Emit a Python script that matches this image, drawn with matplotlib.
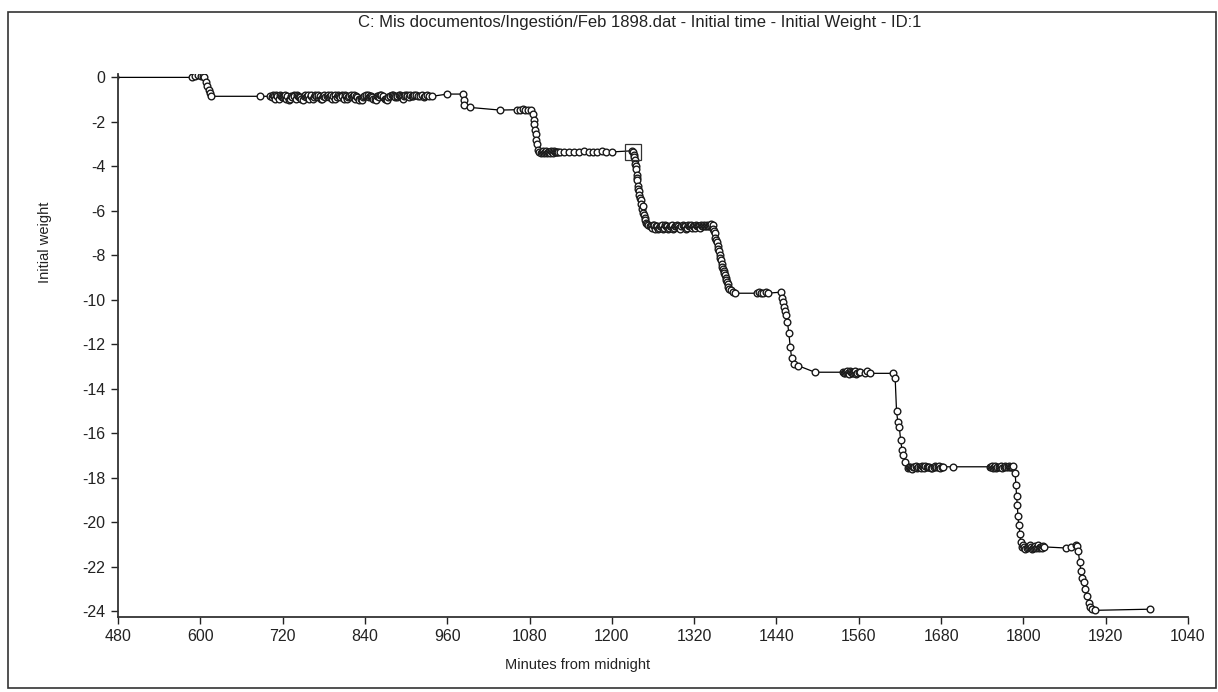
import matplotlib.pyplot as plt
from matplotlib.patches import Rectangle

plt.rcParams['font.family'] = ['Liberation Sans', 'DejaVu Sans']
plt.rcParams['axes.unicode_minus'] = False

# minutes from midnight / initial weight
minutos = [
    475, 588, 592, 597, 601, 604, 606, 608, 610, 612, 614, 616,
    687,
    702, 706, 709, 712, 716, 719, 722, 725, 729, 732, 736, 739, 742, 746, 749,
    752, 756, 759, 762, 766, 769, 772, 776, 779, 782, 786, 789, 792, 796, 799,
    802, 806, 809, 812, 816, 819, 822, 826, 829, 832, 836, 839, 842, 846, 849,
    852, 856, 859, 862, 866, 869, 872, 876, 879, 882, 886, 889, 892, 896, 899,
    902, 906, 910, 915, 920, 926, 930, 934, 938,
    960, 983, 984, 985, 993, 1037,
    1062, 1066, 1070, 1074, 1078, 1082,
    1085, 1086, 1087, 1088, 1089, 1090, 1091, 1092, 1094,
    1096, 1099, 1102, 1105, 1108, 1111, 1114, 1117, 1120, 1124,
    1130, 1138, 1145, 1152, 1160, 1166, 1172, 1178, 1185, 1192, 1200, 1229, 1231,
    1232, 1233, 1234, 1235, 1236, 1237, 1238, 1239, 1240, 1242, 1243, 1244,
    1246, 1247, 1249, 1250, 1252,
    1255, 1258, 1261, 1264, 1267, 1270, 1273, 1276, 1279, 1282, 1285, 1288,
    1291, 1294, 1297, 1300, 1303, 1306, 1309, 1312, 1315, 1318, 1321, 1324,
    1327, 1330, 1333, 1336, 1339, 1342, 1345, 1347,
    1348, 1350, 1351, 1353, 1354, 1356, 1357, 1359, 1360, 1362, 1364, 1366,
    1368, 1370, 1373, 1376, 1379,
    1412, 1415, 1418, 1421, 1424, 1427, 1447,
    1448, 1450, 1451, 1453, 1454, 1456, 1458, 1460, 1462, 1465, 1471, 1496,
    1537, 1540, 1543, 1546, 1549, 1552, 1555, 1558, 1562, 1569, 1572, 1576, 1610,
    1613, 1615, 1617, 1619, 1621, 1623, 1625, 1628,
    1632, 1635, 1638, 1641, 1645, 1649, 1652, 1655, 1659, 1663, 1667, 1671,
    1675, 1679, 1683, 1697,
    1751, 1754, 1757, 1760, 1764, 1767, 1771, 1775, 1779, 1782, 1785,
    1788, 1789, 1790, 1791, 1792, 1793, 1795, 1796, 1798,
    1800, 1803, 1806, 1809, 1812, 1815, 1818, 1821, 1824, 1827, 1830,
    1862, 1870, 1876, 1878,
    1880, 1882, 1884, 1886, 1888, 1890, 1892, 1895, 1897, 1900, 1905,
    1984,
]
peso = [
    0.0, 0.0, 0.05, 0.1, 0.05, 0.08, 0.0, -0.2, -0.4, -0.55, -0.7, -0.85,
    -0.85,
    -0.85, -0.8, -0.95, -0.85, -0.8, -0.9, -0.85, -0.95, -1.0, -0.85, -0.8, -0.95, -0.85, -0.9, -1.0,
    -0.8, -0.85, -0.95, -0.8, -0.9, -0.85, -0.8, -0.95, -0.85, -0.9, -0.8, -0.85, -0.95, -0.8, -0.9,
    -0.85, -0.8, -0.95, -0.85, -0.9, -0.8, -0.85, -0.95, -0.9, -1.0, -1.0, -0.85, -0.8, -0.9, -0.85,
    -0.95, -1.0, -0.85, -0.8, -0.9, -0.95, -1.0, -0.85, -0.8, -0.85, -0.9, -0.8, -0.85, -0.95, -0.8,
    -0.85, -0.8, -0.85, -0.8, -0.85, -0.9, -0.8, -0.85, -0.85,
    -0.75, -0.75, -1.0, -1.25, -1.35, -1.47,
    -1.45, -1.45, -1.4, -1.45, -1.45, -1.45,
    -1.65, -1.9, -2.1, -2.35, -2.55, -2.8, -3.0, -3.25, -3.35,
    -3.4, -3.3, -3.35, -3.4, -3.35, -3.3, -3.4, -3.35, -3.35, -3.35,
    -3.35, -3.35, -3.35, -3.35, -3.3, -3.35, -3.35, -3.35, -3.3, -3.35, -3.35, -3.3, -3.35,
    -3.5, -3.7, -3.9, -4.1, -4.4, -4.6, -4.9, -5.1, -5.3, -5.5, -5.7, -5.9,
    -6.1, -6.2, -6.4, -6.55, -6.65,
    -6.7, -6.75, -6.65, -6.7, -6.8, -6.7, -6.65, -6.75, -6.7, -6.8, -6.7, -6.65,
    -6.75, -6.7, -6.7, -6.8, -6.65, -6.7, -6.75, -6.7, -6.65, -6.7, -6.75, -6.7,
    -6.7, -6.65, -6.7, -6.7, -6.65, -6.7, -6.6, -6.65,
    -6.8, -7.0, -7.2, -7.4, -7.6, -7.8, -8.0, -8.2, -8.4, -8.6, -8.8, -9.0,
    -9.2, -9.4, -9.55, -9.65, -9.7,
    -9.7, -9.65, -9.7, -9.7, -9.65, -9.7, -9.65,
    -9.9, -10.1, -10.3, -10.5, -10.7, -11.0, -11.5, -12.1, -12.6, -12.9, -12.95, -13.25,
    -13.25, -13.3, -13.2, -13.35, -13.25, -13.3, -13.2, -13.3, -13.25, -13.3, -13.2, -13.3, -13.3,
    -13.5, -15.0, -15.5, -15.7, -16.3, -16.75, -16.95, -17.3,
    -17.55, -17.5, -17.6, -17.5, -17.55, -17.5, -17.45, -17.55, -17.5, -17.5, -17.55, -17.45,
    -17.5, -17.55, -17.5, -17.5,
    -17.5, -17.45, -17.5, -17.55, -17.5, -17.45, -17.5, -17.5, -17.45, -17.5, -17.45,
    -17.8, -18.3, -18.8, -19.2, -19.7, -20.1, -20.5, -20.9, -21.1,
    -21.0, -21.2, -21.1, -21.0, -21.2, -21.1, -21.15, -21.0, -21.1, -21.15, -21.1,
    -21.15, -21.1, -21.0, -21.05,
    -21.3, -21.8, -22.2, -22.5, -22.7, -23.0, -23.3, -23.6, -23.8, -23.9, -23.95,
    -23.9,
]

# lecturas extra en los tramos densos (bandas oscuras del original)
minutos_densos = [
    704, 708, 711, 714, 717, 721, 724, 727, 731, 734, 737, 741, 744, 747, 751,
    754, 757, 761, 764, 767, 771, 774, 777, 781, 784, 787, 791, 794, 797, 801,
    804, 807, 811, 814, 817, 821, 824, 827, 831, 834, 837, 841, 844, 847, 851,
    854, 857, 861, 864, 867, 871, 874, 877, 881, 884, 887, 891, 894, 897, 901,
    904, 908, 912, 918, 923, 928,
    1097.5, 1100.5, 1103.5, 1106.5, 1109.5, 1112.5, 1115.5, 1118.5, 1122,
    1232.5, 1234.5, 1236.5, 1238.5, 1241, 1245, 1248, 1251,
    1256.5, 1259.5, 1262.5, 1265.5, 1268.5, 1271.5, 1274.5, 1277.5, 1280.5, 1283.5,
    1286.5, 1289.5, 1292.5, 1295.5, 1298.5, 1301.5, 1304.5, 1307.5, 1310.5, 1313.5,
    1316.5, 1319.5, 1322.5, 1325.5, 1328.5, 1331.5, 1334.5, 1337.5, 1340.5, 1343.5,
    1349, 1352, 1355, 1358, 1361, 1363, 1365, 1367, 1369, 1371,
    1538.5, 1541.5, 1544.5, 1547.5, 1550.5, 1553.5, 1556.5, 1560,
    1633.5, 1636.5, 1639.5, 1643, 1647, 1650.5, 1653.5, 1657, 1661, 1665, 1669,
    1673, 1677, 1681,
    1752.5, 1755.5, 1758.5, 1762, 1765.5, 1769, 1773, 1777, 1780.5, 1783.5,
    1801.5, 1804.5, 1807.5, 1810.5, 1813.5, 1816.5, 1819.5, 1822.5, 1825.5, 1828.5,
]
peso_densos = [
    -0.9, -0.85, -0.8, -0.95, -0.85, -0.9, -0.8, -0.85, -0.95, -0.9, -0.85, -0.8, -0.9, -0.95, -0.85,
    -0.9, -0.8, -0.85, -0.95, -0.8, -0.9, -0.85, -0.95, -0.8, -0.85, -0.9, -0.8, -0.85, -0.95, -0.8,
    -0.9, -0.85, -0.8, -0.95, -0.85, -0.9, -0.8, -0.85, -0.95, -0.95, -0.9, -0.85, -0.8, -0.85, -0.9,
    -0.95, -0.85, -0.9, -0.8, -0.85, -0.95, -0.9, -0.85, -0.8, -0.9, -0.85, -0.8, -0.9, -0.85, -0.8,
    -0.9, -0.85, -0.8, -0.85, -0.8, -0.85,
    -3.35, -3.4, -3.3, -3.35, -3.4, -3.35, -3.3, -3.35, -3.35,
    -3.6, -4.0, -4.5, -5.0, -5.4, -5.8, -6.3, -6.6,
    -6.7, -6.65, -6.8, -6.7, -6.75, -6.7, -6.8, -6.65, -6.7, -6.75,
    -6.7, -6.8, -6.7, -6.65, -6.75, -6.7, -6.7, -6.8, -6.65, -6.7,
    -6.75, -6.7, -6.65, -6.7, -6.75, -6.7, -6.65, -6.7, -6.7, -6.65,
    -6.9, -7.3, -7.7, -8.1, -8.5, -8.7, -8.9, -9.1, -9.3, -9.5,
    -13.3, -13.25, -13.3, -13.2, -13.3, -13.25, -13.35, -13.25,
    -17.5, -17.55, -17.5, -17.45, -17.5, -17.55, -17.5, -17.45, -17.5, -17.55, -17.5,
    -17.5, -17.45, -17.5,
    -17.5, -17.55, -17.45, -17.5, -17.5, -17.55, -17.45, -17.5, -17.5, -17.5,
    -21.1, -21.15, -21.05, -21.1, -21.15, -21.05, -21.1, -21.15, -21.1, -21.05,
]

# punto seleccionado (cuadro)
sel_t = [1231]
sel_w = [-3.35]

x_ticks = [480, 600, 720, 840, 960, 1080, 1200, 1320, 1440, 1560, 1680, 1800, 1920, 2040]
x_tick_labels = ['480', '600', '720', '840', '960', '1080', '1200', '1320', '1440',
                 '1560', '1680', '1800', '1920', '1040']
y_ticks = [0, -2, -4, -6, -8, -10, -12, -14, -16, -18, -20, -22, -24]

# juntar y ordenar por tiempo
pares = sorted(zip(minutos + minutos_densos, peso + peso_densos))
t_all = [p[0] for p in pares]
w_all = [p[1] for p in pares]

fig = plt.figure(figsize=(12.18, 6.92), dpi=100)
ax = fig.add_axes([0.0969, 0.1084, 0.8785, 0.7846])

ax.plot(t_all, w_all, color='k', lw=0.9, marker='o', markersize=4.8,
        markerfacecolor='white', markeredgecolor='#1a1a1a', markeredgewidth=1.0)
ax.plot(sel_t, sel_w, linestyle='none', marker='s', markersize=11,
        markerfacecolor='none', markeredgecolor='#333333', markeredgewidth=0.9)

ax.set_xlim(480, 2040)
ax.set_ylim(-24.25, 0.15)
ax.set_xticks(x_ticks)
ax.set_xticklabels(x_tick_labels)
ax.set_yticks(y_ticks)
ax.tick_params(labelsize=11.5, length=5, width=1.0, colors='#222222', pad=4)

for s in ['top', 'right']:
    ax.spines[s].set_visible(False)
for s in ['left', 'bottom']:
    ax.spines[s].set_linewidth(1.3)
    ax.spines[s].set_color('#333333')

fig.text(0.525, 0.968, 'C: Mis documentos/Ingestión/Feb 1898.dat - Initial time - Initial Weight - ID:1',
         ha='center', va='center', fontsize=12, color='#222222')
fig.text(0.474, 0.039, 'Minutes from midnight', ha='center', va='center',
         fontsize=10.5, color='#222222')
fig.text(0.037, 0.65, 'Initial weight', ha='center', va='center', rotation=90,
         fontsize=10.5, color='#222222')

# marco exterior
fig.patches.append(Rectangle((0.0066, 0.0058), 0.992, 0.977, transform=fig.transFigure,
                             fill=False, edgecolor='#333333', linewidth=1.2))

plt.savefig('out.png', dpi=100)
